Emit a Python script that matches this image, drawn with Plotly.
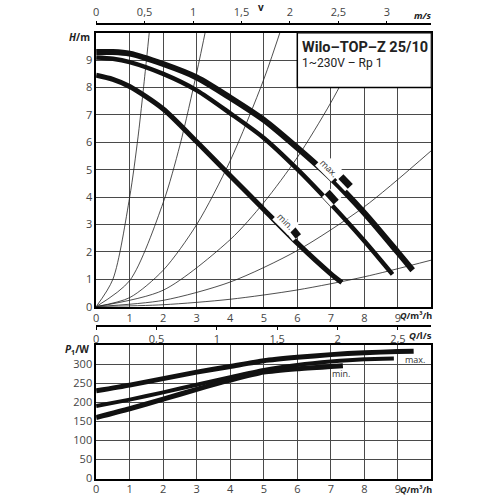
import plotly.graph_objects as go

# pump curves H(Q)
q_max = [0, 0.5, 1, 2, 3, 4, 5, 6, 7, 8, 9, 9.44]
h_max = [9.3, 9.3, 9.24, 8.86, 8.37, 7.63, 6.82, 5.8, 4.7, 3.42, 1.98, 1.33]
q_mid = [0, 0.5, 1, 2, 3, 4, 5, 6, 7, 8, 8.84]
h_mid = [9.1, 9.05, 8.93, 8.5, 7.9, 7.06, 6.16, 5.02, 3.75, 2.4, 1.18]
q_min = [0, 0.5, 1, 2, 3, 4, 5, 6, 7, 7.33]
h_min = [8.45, 8.3, 8.04, 7.22, 6.02, 4.78, 3.55, 2.32, 1.2, 0.88]

# system curves (thin lines through the origin)
sys_q = [
    [0, 0.5, 1.0, 1.25, 1.5, 1.6],
    [0, 1, 2, 2.5, 3, 3.3],
    [0, 1, 2, 3, 4, 5, 5.6],
    [0, 2, 4, 5, 6, 7, 8.1],
    [0, 2, 4, 6, 8, 10],
    [0, 2, 4, 6, 8, 10],
]
sys_h = [
    [0, 1.0, 4.0, 6.2, 9.0, 10.2],
    [0, 0.95, 3.8, 5.9, 8.55, 10.3],
    [0, 0.33, 1.33, 3.0, 5.33, 8.3, 10.45],
    [0, 0.6, 2.45, 3.8, 5.45, 7.45, 10.0],
    [0, 0.23, 0.9, 2.05, 3.65, 5.7],
    [0, 0.07, 0.27, 0.61, 1.09, 1.7],
]

# short speed markers beside the curves
mark_q = [[7.30, 7.58], [6.89, 7.16], [5.83, 6.03]]
mark_h = [[4.75, 4.39], [4.18, 3.82], [2.86, 2.56]]

# power curves P1(Q)
pq_max = [0, 1, 2, 3, 4, 5, 6, 7, 8, 9, 9.47]
p_max = [230, 245, 262, 279, 294, 309, 318, 325, 330, 333, 334]
pq_mid = [0, 1, 2, 3, 4, 5, 6, 7, 8, 8.88]
p_mid = [190, 207, 226, 246, 266, 285, 298, 307, 313, 315]
pq_min = [0, 1, 2, 3, 4, 5, 6, 7, 7.36]
p_min = [160, 183, 208, 234, 258, 279, 288, 294, 296]

q_ticks = [0, 1, 2, 3, 4, 5, 6, 7, 8, 9]
h_ticks = [0, 1, 2, 3, 4, 5, 6, 7, 8, 9]
p_ticks = [0, 50, 100, 150, 200, 250, 300]
v_ticks = [0, 0.5, 1, 1.5, 2, 2.5, 3]
v_text = ["0", "0,5", "1", "1,5", "2", "2,5", "3"]
ls_ticks = [0, 0.5, 1, 1.5, 2, 2.5]
ls_text = ["0", "0,5", "1", "1,5", "2", "2,5"]

FONT = "Open Sans"
TICKCOL = "#444"
GRID = "#4a4a4a"

fig = go.Figure()

for xs, ys in zip(sys_q, sys_h):
    fig.add_trace(go.Scatter(x=xs, y=ys, mode="lines",
                             line=dict(color="#222", width=0.8, shape="spline", smoothing=0.8),
                             xaxis="x", yaxis="y", hoverinfo="skip"))

for xs, ys, w in [(q_max, h_max, 6), (q_mid, h_mid, 4.5), (q_min, h_min, 5)]:
    fig.add_trace(go.Scatter(x=xs, y=ys, mode="lines",
                             line=dict(color="#111", width=w, shape="spline", smoothing=0.8),
                             xaxis="x", yaxis="y"))

for xs, ys in zip(mark_q, mark_h):
    fig.add_trace(go.Scatter(x=xs, y=ys, mode="lines", line=dict(color="white", width=14),
                             xaxis="x", yaxis="y", hoverinfo="skip"))
    fig.add_trace(go.Scatter(x=xs, y=ys, mode="lines", line=dict(color="#111", width=7),
                             xaxis="x", yaxis="y", hoverinfo="skip"))

for xs, ys, w in [(pq_max, p_max, 5), (pq_mid, p_mid, 4), (pq_min, p_min, 5)]:
    fig.add_trace(go.Scatter(x=xs, y=ys, mode="lines",
                             line=dict(color="#111", width=w, shape="spline", smoothing=0.6),
                             xaxis="x2", yaxis="y2"))

# dummy traces so the secondary scales get drawn
fig.add_trace(go.Scatter(x=[0], y=[0], mode="markers", marker=dict(opacity=0), xaxis="x3", yaxis="y", hoverinfo="skip"))
fig.add_trace(go.Scatter(x=[0], y=[0], mode="markers", marker=dict(opacity=0), xaxis="x4", yaxis="y2", hoverinfo="skip"))

dom_x = [93.7 / 500, 431 / 500]
tickfont = dict(family=FONT, size=11, color=TICKCOL)
frame = dict(showline=True, linecolor="black", linewidth=1.5, mirror=True, showgrid=True,
             gridcolor=GRID, gridwidth=1, zeroline=False, ticks="", tickfont=tickfont, fixedrange=True)

fig.update_layout(
    width=500, height=500,
    margin=dict(l=0, r=0, t=0, b=0),
    paper_bgcolor="white", plot_bgcolor="white",
    showlegend=False,
    xaxis=dict(domain=dom_x, range=[0, 10], anchor="y", tickvals=q_ticks, **frame),
    yaxis=dict(domain=[1 - 311 / 500, 1 - 33.3 / 500], range=[0, 10], anchor="x", tickvals=h_ticks, **frame),
    xaxis2=dict(domain=dom_x, range=[0, 10], anchor="y2", tickvals=q_ticks, **frame),
    yaxis2=dict(domain=[1 - 485.3 / 500, 1 - 350 / 500], range=[0, 350], anchor="x2", tickvals=p_ticks, **frame),
    xaxis3=dict(overlaying="x", side="top", anchor="free", position=1 - 24.7 / 500, range=[0, 3.46],
                tickvals=v_ticks, ticktext=v_text, showgrid=False, zeroline=False, showline=True,
                linecolor="black", linewidth=1.5, ticks="outside", ticklen=3, tickcolor="black",
                tickfont=tickfont, fixedrange=True),
    xaxis4=dict(overlaying="x2", side="bottom", anchor="free", position=1 - 330.7 / 500, range=[0, 10 / 3.6],
                tickvals=ls_ticks, ticktext=ls_text, showgrid=False, zeroline=False, showline=True,
                linecolor="black", linewidth=1.5, ticks="outside", ticklen=3, tickcolor="black",
                tickfont=tickfont, fixedrange=True),
)

# type box in the upper right corner
fig.add_shape(type="rect", xref="x", yref="y", x0=6, x1=10, y0=8, y1=10,
              fillcolor="white", line=dict(color="black", width=1.5), layer="above")


def note(text, x, y, size=10, xanchor="center", xref="paper", yref="paper", family=FONT, **kw):
    fig.add_annotation(text=text, x=x, y=y, xref=xref, yref=yref, xanchor=xanchor, yanchor="middle",
                       showarrow=False, font=dict(family=family, size=size, color=kw.pop("color", "#222")), **kw)


note("<b>Wilo–TOP–Z 25/10</b>", 0.598, 1 - 47.7 / 500, size=14.5, xanchor="left", family="Roboto")
note("1~230V – Rp 1", 0.598, 1 - 64 / 500, size=12, xanchor="left", family="Roboto")

note("<b><i>H</i>/m</b>", 0.179, 1 - 38 / 500, xanchor="right")
note("<b><i>P</i><sub>1</sub>/W</b>", 0.178, 1 - 354 / 500, xanchor="right")
note("<b><i>Q</i>/m³/h</b>", 0.866, 1 - 320 / 500, size=9, xanchor="right", borderpad=0)
note("<b><i>Q</i>/m³/h</b>", 0.866, 1 - 496 / 500, size=9, xanchor="right", borderpad=0)
note("<b><i>Q</i>/l/s</b>", 0.866, 1 - 340 / 500, size=9.5, xanchor="right", borderpad=0)
note("<b><i>m/s</i></b>", 0.866, 1 - 16 / 500, size=9.5, xanchor="right", borderpad=0)
note("<b>v</b>", 0.52, 1 - 6.7 / 500)

note("max.", 6.96, 5.06, size=9, xref="x", yref="y", textangle=45, bgcolor="white", color="#333")
note("min.", 5.65, 3.10, size=9, xref="x", yref="y", textangle=45, bgcolor="white", color="#333")
note("max.", 9.51, 312, size=9, xref="x2", yref="y2", color="#333")
note("min.", 7.31, 275, size=9, xref="x2", yref="y2", color="#333")

fig.write_html("out.html", config={"displayModeBar": False},
               post_script="document.body.style.margin='0';")
